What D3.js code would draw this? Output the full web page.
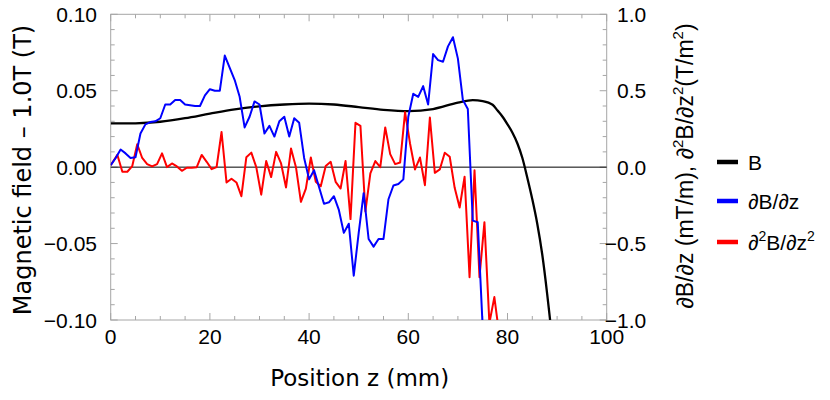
<!DOCTYPE html>
<html><head><meta charset="utf-8">
<script src="https://cdn.jsdelivr.net/npm/d3@7"></script>
<style>body{margin:0;background:#fff}</style>
</head><body><svg id="c" width="830" height="400"></svg>
<script>
// ---------- data ----------
const zField = [0,5,10,15,20,25,30,35,40,45,50,55,60,65,70,73,75,77,78,79,80,81,82,83,84,85,86,87,88,89,90];
const bField = [0.0286,0.0287,0.0297,0.0320,0.0350,0.0378,0.0398,0.0410,0.0416,0.0410,0.0393,0.0375,0.0366,0.0380,0.0422,0.0438,0.0432,0.0408,0.0370,0.0330,0.0280,0.0225,0.0155,0.0060,-0.0070,-0.0210,-0.0370,-0.0570,-0.0830,-0.1130,-0.1500];
const dB = [0.013,0.06,0.115,0.09,0.06,0.065,0.22,0.28,0.295,0.30,0.32,0.41,0.41,0.44,0.44,0.41,0.405,0.40,0.40,0.47,
  0.51,0.50,0.50,0.73,0.65,0.57,0.46,0.26,0.33,0.43,0.41,0.22,0.27,0.20,0.30,0.33,0.20,0.32,0.29,0.06,
  -0.08,-0.02,-0.13,-0.24,-0.23,-0.19,-0.28,-0.43,-0.37,-0.71,-0.43,-0.17,-0.47,-0.52,-0.47,-0.47,-0.21,-0.12,-0.11,-0.08,
  0.33,0.48,0.46,0.53,0.41,0.74,0.70,0.69,0.79,0.85,0.71,0.44,0.38,-0.35,-0.36,-1.05,-1.6];
const d2B = [0.013,0.08,-0.03,-0.03,0.007,0.15,0.06,0.02,0.005,0.02,0.09,0.0,0.024,0.005,-0.024,-0.004,-0.004,0.0,0.08,0.035,
  -0.013,0.0,0.23,-0.10,-0.076,-0.10,-0.19,0.065,0.095,0.0,-0.18,0.04,-0.065,0.10,0.024,-0.133,0.122,0.0,-0.227,-0.14,
  0.063,-0.096,-0.125,0.007,0.035,-0.096,-0.14,0.04,-0.34,0.29,0.27,-0.29,-0.04,0.04,0.0,0.26,0.085,0.02,0.03,0.36,
  0.155,-0.015,0.063,-0.118,0.325,-0.037,-0.015,0.094,0.068,-0.135,-0.264,-0.063,-0.72,-0.02,-0.72,-0.36,-1.02,-0.85,-1.1,-1.4];
const xTicks = [0,20,40,60,80,100];
const yLeftTicks = [-0.10,-0.05,0.00,0.05,0.10];
const yRightTicks = [-1.0,-0.5,0.0,0.5,1.0];
const seriesNames = ["B","dB","d2B"];
const seriesColors = ["#000000","#0000ff","#ff0000"];

// ---------- layout ----------
const svg = d3.select("#c");
const L = 110.7, R = 606.7, T = 14.3, Bt = 320;
const x = d3.scaleLinear().domain([0,100]).range([L,R]);
const yL = d3.scaleLinear().domain([-0.1,0.1]).range([Bt,T]);
const yR = d3.scaleLinear().domain([-1,1]).range([Bt,T]);
const tickFont = "'Liberation Sans', Arial, sans-serif";
const titleFont = "'DejaVu Sans', sans-serif";
const tickSize = 21;

svg.append("defs").append("clipPath").attr("id","clip")
  .append("rect").attr("x",L).attr("y",T).attr("width",R-L).attr("height",Bt-T);

const frameCol = "#a6a6a6";
const g = svg.append("g");
d3.range(0,101,5).forEach(v=>{
  const len = (v%20===0)?7:4;
  g.append("line").attr("x1",x(v)).attr("x2",x(v)).attr("y1",Bt).attr("y2",Bt-len).attr("stroke",frameCol);
  g.append("line").attr("x1",x(v)).attr("x2",x(v)).attr("y1",T).attr("y2",T+len).attr("stroke",frameCol);
});
d3.range(-10,11,1).forEach(k=>{
  const v=k/100, len=(k%5===0)?7:4;
  g.append("line").attr("x1",L).attr("x2",L+len).attr("y1",yL(v)).attr("y2",yL(v)).attr("stroke",frameCol);
});
d3.range(-10,11,1).forEach(k=>{
  const v=k/10, len=(k%5===0)?7:4;
  g.append("line").attr("x1",R).attr("x2",R-len).attr("y1",yR(v)).attr("y2",yR(v)).attr("stroke",frameCol);
});
svg.append("rect").attr("x",L).attr("y",T).attr("width",R-L).attr("height",Bt-T)
  .attr("fill","none").attr("stroke",frameCol).attr("stroke-width",1);

svg.append("line").attr("x1",L).attr("x2",R).attr("y1",yL(0)).attr("y2",yL(0))
  .attr("stroke","#000").attr("stroke-width",1);

const fL = d3.format(".2f"), fR = d3.format(".1f");
xTicks.forEach(v=>{
  svg.append("text").attr("x",x(v)).attr("y",344).attr("text-anchor","middle")
    .attr("font-family",tickFont).attr("font-size",tickSize).text(v);
});
yLeftTicks.forEach(v=>{
  svg.append("text").attr("x",97).attr("y",yL(v)+7.5).attr("text-anchor","end")
    .attr("font-family",tickFont).attr("font-size",tickSize).text(fL(v));
});
yRightTicks.forEach(v=>{
  const t = svg.append("text").attr("y",yR(v)+7.5).attr("text-anchor","start")
    .attr("font-family",tickFont).attr("font-size",tickSize).text(fR(v));
  t.attr("x", v<0 ? 617 - 0.584*tickSize : 617);
});

const pd = svg.append("g").attr("clip-path","url(#clip)");
const lineB = d3.line().x((d,i)=>x(zField[i])).y(d=>yL(d)).curve(d3.curveMonotoneX);
pd.append("path").datum(bField).attr("d",lineB).attr("fill","none").attr("stroke",seriesColors[0]).attr("stroke-width",2.3);
const lineD = d3.line().x((d,i)=>x(i)).y(d=>yR(d));
const lineD2 = d3.line().x((d,i)=>x(i===0?0:i+0.35)).y(d=>yR(d));
pd.append("path").datum(d2B).attr("d",lineD2).attr("fill","none").attr("stroke",seriesColors[2]).attr("stroke-width",2).attr("stroke-linejoin","round");
pd.append("path").datum(dB).attr("d",lineD).attr("fill","none").attr("stroke",seriesColors[1]).attr("stroke-width",2).attr("stroke-linejoin","round");

svg.append("text").attr("x",(L+R)/2+1).attr("y",386).attr("text-anchor","middle")
  .attr("font-family",titleFont).attr("font-size",23).text("Position z (mm)");
svg.append("text").attr("transform","translate(31,170) rotate(-90)").attr("text-anchor","middle")
  .attr("font-family",titleFont).attr("font-size",24).text("Magnetic field \u2013 1.0T (T)");

function richText(sel, parts, supSize, shift){
  parts.forEach(p=>{
    const ts = sel.append("tspan").text(p.t);
    if (p.sup) ts.attr("dy",-shift).attr("font-size",supSize);
    else if (p.after) ts.attr("dy",shift);
    if (p.it) ts.attr("font-style","italic");
  });
}
const rt = svg.append("text").attr("transform","translate(693,166) rotate(-90)").attr("text-anchor","middle")
  .attr("font-family",tickFont).attr("font-size",23);
richText(rt,[{t:"\u2202",it:1},{t:"B/"},{t:"\u2202",it:1},{t:"z (mT/m), "},{t:"\u2202",it:1},{t:"2",sup:1},{t:"B/",after:1},{t:"\u2202",it:1},{t:"z"},{t:"2",sup:1},{t:"(T/m",after:1},{t:"2",sup:1},{t:")",after:1}],15,10);

const legY = [162,201,242];
const legParts = [
  [{t:"B"}],
  [{t:"\u2202",it:1},{t:"B/"},{t:"\u2202",it:1},{t:"z"}],
  [{t:"\u2202",it:1},{t:"2",sup:1},{t:"B/",after:1},{t:"\u2202",it:1},{t:"z"},{t:"2",sup:1}]
];
seriesNames.forEach((s,i)=>{
  svg.append("line").attr("x1",717).attr("x2",738).attr("y1",legY[i]).attr("y2",legY[i])
    .attr("stroke",seriesColors[i]).attr("stroke-width",4.5);
  const t = svg.append("text").attr("x",748).attr("y",legY[i]+7.5).attr("font-family",tickFont).attr("font-size",21);
  richText(t, legParts[i], 14, 9);
});
</script></body></html>
